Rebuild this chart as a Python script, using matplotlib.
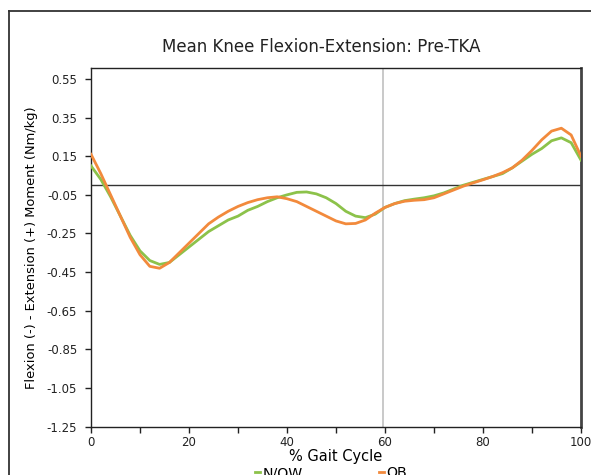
import matplotlib
matplotlib.use("Agg")
import matplotlib.pyplot as plt
from matplotlib.lines import Line2D

plt.rcParams['font.family'] = ['DejaVu Sans']

# % gait cycle, sampled every 2%
gait = list(range(0, 101, 2))

# Mean knee flexion-extension moment (Nm/kg)
now_moment = [0.10, 0.03, -0.06, -0.16, -0.26, -0.34, -0.39, -0.41, -0.40, -0.36,
              -0.32, -0.28, -0.24, -0.21, -0.18, -0.16, -0.13, -0.11, -0.085, -0.065,
              -0.05, -0.037, -0.035, -0.045, -0.065, -0.095, -0.135, -0.16, -0.168, -0.15,
              -0.115, -0.095, -0.08, -0.072, -0.065, -0.055, -0.04, -0.02, 0.0, 0.015,
              0.03, 0.045, 0.06, 0.09, 0.125, 0.16, 0.19, 0.23, 0.245, 0.22, 0.13]
ob_moment = [0.16, 0.06, -0.05, -0.16, -0.27, -0.36, -0.42, -0.43, -0.40, -0.35,
             -0.30, -0.25, -0.20, -0.165, -0.135, -0.11, -0.09, -0.075, -0.065, -0.06,
             -0.07, -0.085, -0.11, -0.135, -0.16, -0.185, -0.20, -0.198, -0.18, -0.145,
             -0.115, -0.095, -0.083, -0.078, -0.075, -0.065, -0.045, -0.025, -0.005, 0.012,
             0.028, 0.045, 0.065, 0.09, 0.13, 0.18, 0.235, 0.28, 0.295, 0.26, 0.15]

toe_off = 59.5
y_ticks = [0.55, 0.35, 0.15, -0.05, -0.25, -0.45, -0.65, -0.85, -1.05, -1.25]
x_major = [0, 20, 40, 60, 80, 100]
x_minor = [10, 30, 50, 70, 90]

fig = plt.figure(figsize=(5.91, 4.75), dpi=100)
ax = fig.add_axes([0.154, 0.1017, 0.829, 0.7553])

ax.axhline(0, color='#333333', lw=1.0, zorder=2)
ax.axvline(toe_off, color='#c0c0c0', lw=1.2, zorder=1)

ax.plot(gait, now_moment, color='#8cc24a', lw=2.0, zorder=3, label='N/OW')
ax.plot(gait, ob_moment, color='#f28a3c', lw=2.0, zorder=4, label='OB')

ax.set_xlim(0, 100)
ax.set_ylim(-1.25, 0.607)
ax.set_yticks(y_ticks)
ax.set_yticklabels([f"{v:.2f}" for v in y_ticks])
ax.set_xticks(x_major)
ax.set_xticks(x_minor, minor=True)
ax.tick_params(axis='both', which='both', direction='out', length=4, width=1,
               labelsize=8.5, colors='#222222')
ax.tick_params(axis='y', pad=6)
ax.tick_params(axis='x', pad=2.5)

for side in ['left', 'bottom', 'top']:
    ax.spines[side].set_color('#222222')
    ax.spines[side].set_linewidth(1.0)
ax.spines['right'].set_color('#444444')
ax.spines['right'].set_linewidth(2.0)

ax.set_xlabel('% Gait Cycle', fontsize=10.5, labelpad=0)
ax.set_ylabel('Flexion (-) - Extension (+) Moment (Nm/kg)', fontsize=9.4, labelpad=6)

fig.text(0.544, 0.901, 'Mean Knee Flexion-Extension: Pre-TKA', fontsize=12,
         ha='center', va='center', color='#222222')

leg = ax.legend(loc='upper left', bbox_to_anchor=(0.321, -0.090), ncol=2,
                frameon=False, fontsize=10.2, handlelength=0.35, handletextpad=0.15,
                columnspacing=5.4, borderpad=0)

# chart area frame (runs past the right and bottom edges)
fig.add_artist(Line2D([0.016, 1.0], [0.977, 0.977], color='#333333', lw=1.3,
                      transform=fig.transFigure))
fig.add_artist(Line2D([0.016, 0.016], [0.0, 0.977], color='#333333', lw=1.3,
                      transform=fig.transFigure))

fig.savefig('out.png', dpi=100)
